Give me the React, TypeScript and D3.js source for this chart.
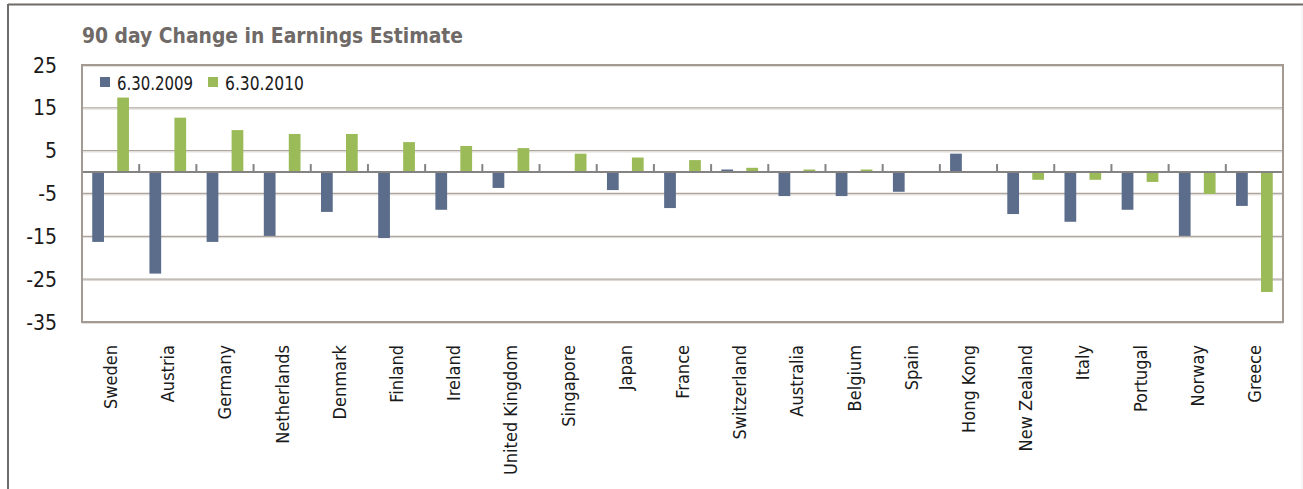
import React from "react";
import * as d3 from "d3";

const countries = [
  "Sweden", "Austria", "Germany", "Netherlands", "Denmark", "Finland", "Ireland",
  "United Kingdom", "Singapore", "Japan", "France", "Switzerland", "Australia",
  "Belgium", "Spain", "Hong Kong", "New Zealand", "Italy", "Portugal", "Norway", "Greece",
];
const change2009 = [
  -16.3, -23.7, -16.3, -14.9, -9.3, -15.4, -8.8, -3.7, 0, -4.2, -8.4, 0.6, -5.6,
  -5.6, -4.6, 4.3, -9.8, -11.6, -8.8, -14.9, -7.9,
];
const change2010 = [
  17.4, 12.7, 9.8, 8.9, 8.9, 7.0, 6.1, 5.6, 4.3, 3.4, 2.8, 1.0, 0.6,
  0.6, 0, 0, -1.8, -1.8, -2.3, -5.1, -28.0,
];
const seriesNames = ["6.30.2009", "6.30.2010"];
const yTicks = [25, 15, 5, -5, -15, -25, -35];
const title = "90 day Change in Earnings Estimate";

const W = 1303;
const H = 489;
const plot = { left: 82, right: 1283, top: 65, bottom: 322 };
const colors = ["#5b6d8b", "#9bbb59"];
const narrow = "'Liberation Sans Narrow', 'DejaVu Sans Condensed', 'Arial Narrow', sans-serif";

export default function App() {
  const x = d3.scaleBand<string>().domain(countries).range([plot.left, plot.right]);
  const bw = x.bandwidth();
  const xs = d3
    .scaleBand<string>()
    .domain(seriesNames)
    .range([0, bw])
    .paddingInner(0.53)
    .paddingOuter(0.41);
  const y = d3.scaleLinear().domain([-35, 25]).range([plot.bottom, plot.top]);
  const y0 = y(0);
  const series = [change2009, change2010];

  return (
    <svg
      width={W}
      height={H}
      style={{ position: "absolute", left: 0, top: 0, background: "#fff" }}
    >
      {/* outer frame */}
      <line x1={8} y1={4.5} x2={W} y2={4.5} stroke="#6e6b69" strokeWidth={2} />
      <line x1={8} y1={4} x2={8} y2={H} stroke="#6e6b69" strokeWidth={2} />
      <line x1={1302} y1={6} x2={1302} y2={H} stroke="#ececec" strokeWidth={1} />

      <text
        x={plot.left}
        y={43}
        fontFamily={narrow}
        fontWeight="bold"
        fontSize={22}
        fill="#6f6a67"
        textLength={381}
        lengthAdjust="spacingAndGlyphs"
      >
        {title}
      </text>

      {/* gridlines */}
      {yTicks.map((t) => (
        <g key={t}>
          <line x1={plot.left} x2={plot.right} y1={y(t)} y2={y(t)} stroke="#aea69e" strokeWidth={1.3} />
          <line x1={plot.left} x2={plot.right} y1={y(t) + 1.3} y2={y(t) + 1.3} stroke="#ddd8d3" strokeWidth={1} />
        </g>
      ))}

      {/* y labels */}
      {yTicks.map((t) => (
        <text
          key={"l" + t}
          x={57}
          y={y(t)}
          dy="0.36em"
          textAnchor="end"
          fontFamily={narrow}
          fontSize={21}
          fill="#1a1a1a"
        >
          {t}
        </text>
      ))}

      {/* bars */}
      {series.map((vals, si) =>
        countries.map((c, i) => {
          const v = vals[i];
          const top = Math.min(y(v), y0);
          const h = Math.abs(y(v) - y0);
          if (h === 0) return null;
          return (
            <rect
              key={si + c}
              x={(x(c) as number) + (xs(seriesNames[si]) as number)}
              y={top}
              width={xs.bandwidth()}
              height={h}
              fill={colors[si]}
            />
          );
        })
      )}

      {/* zero axis with tick marks */}
      <line x1={plot.left} x2={plot.right} y1={y0} y2={y0} stroke="#858382" strokeWidth={2} />
      {countries.slice(1).map((c) => (
        <line
          key={"t" + c}
          x1={x(c) as number}
          x2={x(c) as number}
          y1={y0 - 8}
          y2={y0}
          stroke="#858382"
          strokeWidth={2}
        />
      ))}

      {/* plot frame */}
      <rect
        x={plot.left}
        y={plot.top}
        width={plot.right - plot.left}
        height={plot.bottom - plot.top}
        fill="none"
        stroke="#a39b93"
        strokeWidth={2}
      />

      {/* legend */}
      {seriesNames.map((s, i) => {
        const lx = [100, 208][i];
        return (
          <g key={s}>
            <rect x={lx} y={77} width={10} height={10} fill={colors[i]} />
            <text
              x={lx + 17}
              y={89.5}
              fontFamily={narrow}
              fontSize={19}
              fill="#1a1a1a"
              textLength={[76, 79][i]}
              lengthAdjust="spacingAndGlyphs"
            >
              {s}
            </text>
          </g>
        );
      })}

      {/* category labels */}
      {countries.map((c) => {
        const cx = (x(c) as number) + bw / 2;
        return (
          <text
            key={"c" + c}
            transform={`translate(${cx + 6.5},345) rotate(-90)`}
            textAnchor="end"
            fontFamily={narrow}
            fontSize={18}
            fill="#1a1a1a"
          >
            {c}
          </text>
        );
      })}
    </svg>
  );
}
